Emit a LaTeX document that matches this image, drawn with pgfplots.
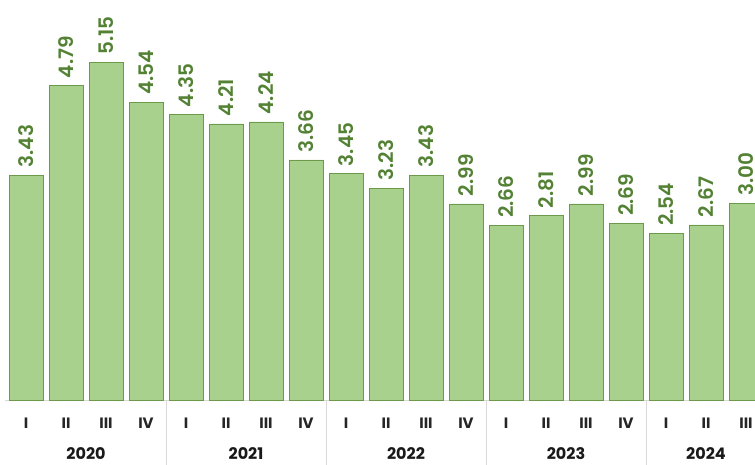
\documentclass[border=0pt]{standalone}
\usepackage{fontspec}
\setmainfont{Poppins}[BoldFont={Poppins SemiBold}]
\newfontfamily\heavy{Poppins Bold}
\usepackage{pgfplots}
\pgfplotsset{compat=1.18}

\definecolor{barfill}{HTML}{A9D18E}
\definecolor{barline}{HTML}{6A9A4A}
\definecolor{lblgreen}{HTML}{548235}
\definecolor{sepgray}{HTML}{D9D9D9}

\pgfplotstableread{
idx val
0 3.43
1 4.79
2 5.15
3 4.54
4 4.35
5 4.21
6 4.24
7 3.66
8 3.45
9 3.23
10 3.43
11 2.99
12 2.66
13 2.81
14 2.99
15 2.69
16 2.54
17 2.67
18 3.00
}\quarters

\begin{document}
\begin{tikzpicture}
\path[use as bounding box] (0,-65pt) rectangle (755pt,400pt);
\clip (0,-65pt) rectangle (755pt,400pt);
\begin{axis}[
    at={(0,0)}, anchor=south west,
    scale only axis,
    width=755pt, height=400pt,
    xmin=-0.65, xmax=18.225,
    ymin=0, ymax=6.1,
    axis x line*=bottom,
    axis y line=none,
    axis line style={draw=none},
    major tick length=0pt,
    clip=false,
    xtick=data,
    xticklabels={I,II,III,IV,I,II,III,IV,I,II,III,IV,I,II,III,IV,I,II,III},
    xticklabel style={font=\fontsize{15}{17}\selectfont\heavy, text=black!85,
        anchor=center, yshift=-23pt},
    ytick=\empty,
    /pgf/number format/assume math mode=true,
]
\draw[sepgray, line width=0.8pt] (axis cs:-0.525,0) -- (axis cs:18.3,0);
\pgfplotsinvokeforeach{3.5,7.5,11.5,15.5}{
  \draw[sepgray, line width=0.8pt] (axis cs:#1,0) -- ([yshift=-66pt]axis cs:#1,0);
}
\addplot[ybar, bar width=0.85, fill=barfill, draw=barline, line width=0.8pt,
    nodes near coords,
    nodes near coords style={rotate=90, anchor=west, xshift=4pt, text=lblgreen,
        font=\fontsize{20}{24}\selectfont\bfseries,
        /pgf/number format/.cd, fixed, fixed zerofill, precision=2, assume math mode=true},
] table[x=idx, y=val] {\quarters};
\node[font=\fontsize{16}{18}\selectfont\heavy, text=black!90] at ([yshift=-54pt]axis cs:1.5,0) {2020};
\node[font=\fontsize{16}{18}\selectfont\heavy, text=black!90] at ([yshift=-54pt]axis cs:5.5,0) {2021};
\node[font=\fontsize{16}{18}\selectfont\heavy, text=black!90] at ([yshift=-54pt]axis cs:9.5,0) {2022};
\node[font=\fontsize{16}{18}\selectfont\heavy, text=black!90] at ([yshift=-54pt]axis cs:13.5,0) {2023};
\node[font=\fontsize{16}{18}\selectfont\heavy, text=black!90] at ([yshift=-54pt]axis cs:17,0) {2024};
\end{axis}
\end{tikzpicture}
\end{document}
